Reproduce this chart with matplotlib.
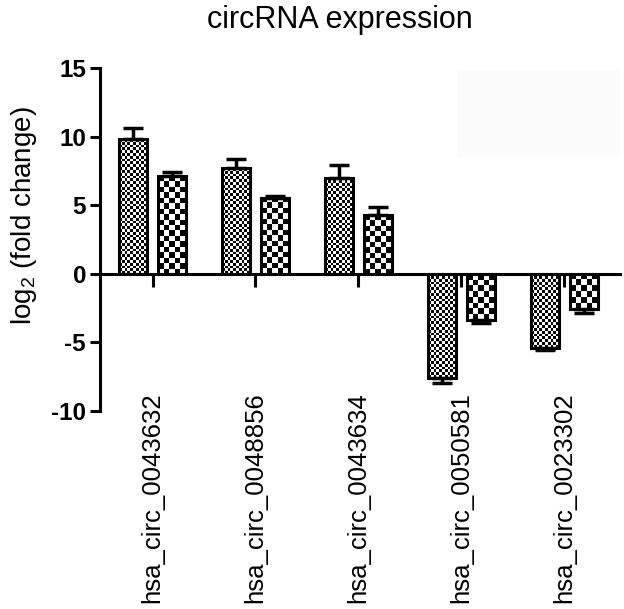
import numpy as np
import matplotlib.pyplot as plt
from matplotlib.patches import Rectangle

plt.rcParams['font.family'] = ['Liberation Sans', 'DejaVu Sans']
plt.rcParams['mathtext.default'] = 'regular'

# valores
genes = ["hsa_circ_0043632", "hsa_circ_0048856", "hsa_circ_0043634",
         "hsa_circ_0050581", "hsa_circ_0023302"]
grupo1 = [9.8, 7.7, 7.0, -7.6, -5.4]
grupo1_err = [0.85, 0.7, 0.9, 0.35, 0.15]
grupo2 = [7.1, 5.55, 4.3, -3.35, -2.6]
grupo2_err = [0.3, 0.15, 0.6, 0.2, 0.25]
yticks = [-10, -5, 0, 5, 10, 15]

fig = plt.figure(figsize=(6.24, 6.09), dpi=100)
ax = fig.add_axes([100/624, 198/609, 520/624, 343/609])
ax.set_xlim(-0.51, 4.54)
ax.set_ylim(-10, 15)

x = np.arange(len(genes))
largura = 0.27
desloc = 0.19


def xadrez(barras, cel_px):
    # preenche cada barra com um padrão de xadrez
    for b in barras:
        x0, y0 = b.get_x(), b.get_y()
        w, h = b.get_width(), b.get_height()
        p0 = ax.transData.transform((x0, y0))
        p1 = ax.transData.transform((x0 + w, y0 + h))
        nx = max(1, int(round(abs(p1[0] - p0[0]) / cel_px)))
        ny = max(1, int(round(abs(p1[1] - p0[1]) / cel_px)))
        ii, jj = np.indices((ny, nx))
        img = ((ii + jj) % 2).astype(float)
        im = ax.imshow(img, extent=(x0, x0 + w, min(y0, y0 + h), max(y0, y0 + h)),
                       cmap='gray', vmin=0, vmax=1, interpolation='nearest',
                       aspect='auto', zorder=2)
        im.set_clip_path(b)


b1 = ax.bar(x - desloc, grupo1, largura, facecolor='none', edgecolor='black',
            linewidth=2.2, zorder=3)
b2 = ax.bar(x + desloc, grupo2, largura, facecolor='none', edgecolor='black',
            linewidth=2.2, zorder=3)
xadrez(b1, 2.8)
xadrez(b2, 5.5)
ax.set_xlim(-0.51, 4.54)
ax.set_ylim(-10, 15)

for pos, vals, errs in [(x - desloc, grupo1, grupo1_err), (x + desloc, grupo2, grupo2_err)]:
    baixo = [e if v < 0 else 0 for v, e in zip(vals, errs)]
    cima = [e if v >= 0 else 0 for v, e in zip(vals, errs)]
    ax.errorbar(pos, vals, yerr=[baixo, cima], fmt='none', ecolor='black',
                elinewidth=2.5, capsize=7, capthick=2.5, zorder=4)

# caixa quase invisível no canto
ax.add_patch(Rectangle((457/624, 451/609), 163/624, 88/609, transform=fig.transFigure,
                       facecolor='#fbfbfb', edgecolor='none', zorder=0))

ax.spines['top'].set_visible(False)
ax.spines['right'].set_visible(False)
ax.spines['left'].set_linewidth(2.2)
ax.spines['bottom'].set_linewidth(2.2)
ax.spines['bottom'].set_position(('data', 0))
ax.spines['bottom'].set_zorder(5)

ax.set_yticks(yticks)
ax.set_yticklabels([str(t) for t in yticks], fontsize=17.5, fontweight='bold')
ax.tick_params(axis='y', direction='out', length=7, width=2.2, pad=3)
ax.set_xticks(x)
ax.set_xticklabels([])
ax.tick_params(axis='x', direction='out', length=9, width=2.2)

for xi, g in zip(x, genes):
    ax.text(xi, 0.055, g, transform=ax.get_xaxis_transform(), rotation=90,
            ha='center', va='top', fontsize=18.5)

ax.set_ylabel('log$_2$ (fold change)', fontsize=20)
ax.yaxis.set_label_coords(-0.118, 0.571)
fig.text(0.545, 0.967, 'circRNA expression', ha='center', va='center', fontsize=22)

fig.savefig('out.png', dpi=100)
